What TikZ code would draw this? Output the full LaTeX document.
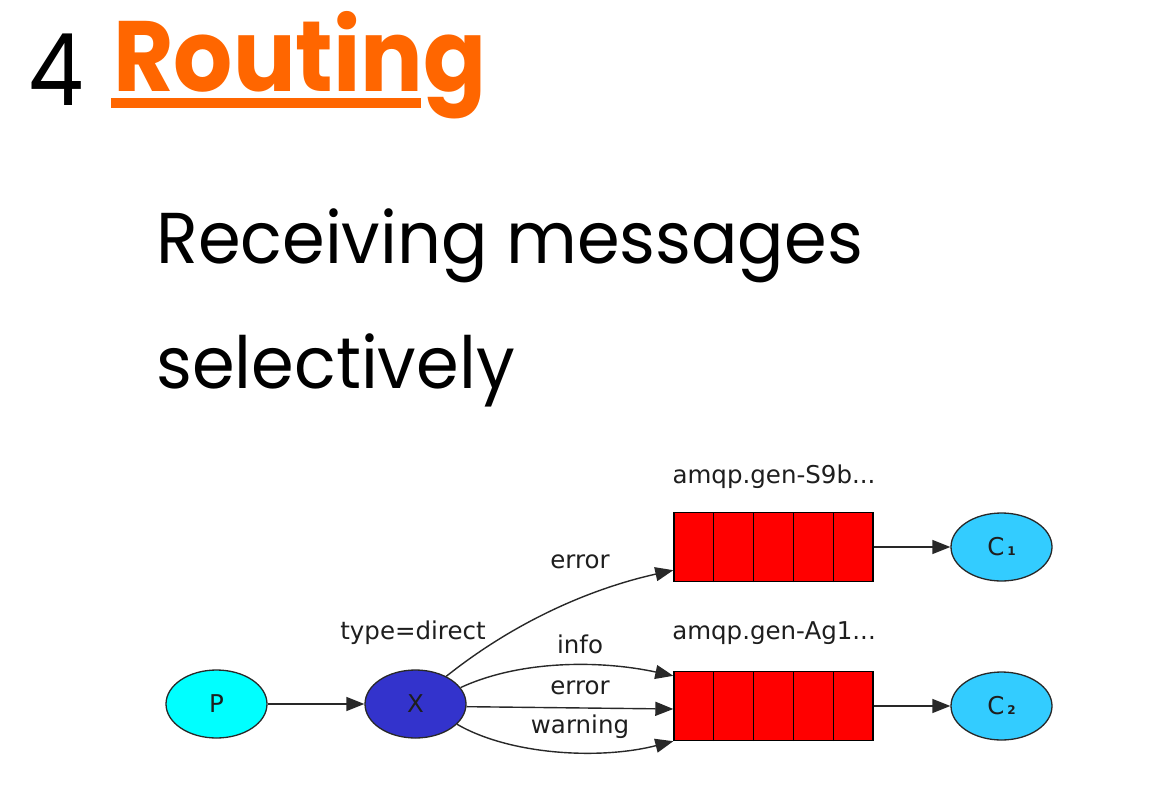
\documentclass[tikz,border=0pt]{standalone}
\usepackage{fontspec}
\setmainfont{Poppins}[Ligatures={NoCommon}]
\newfontfamily\dv{DejaVu Sans}
\usetikzlibrary{arrows.meta,calc,shapes.geometric}
\definecolor{titleorange}{RGB}{255,102,0}
\definecolor{pcyan}{RGB}{0,255,255}
\definecolor{xblue}{RGB}{51,51,204}
\definecolor{ccyan}{RGB}{51,204,255}
\definecolor{qred}{RGB}{255,0,0}
\definecolor{edgegray}{RGB}{40,40,40}
\definecolor{labelgray}{RGB}{30,30,30}
\tikzset{
  dfont/.style={font=\dv\fontsize{24.5}{24.5}\selectfont, text=labelgray},
  oval/.style={ellipse, draw=edgegray, line width=1.3pt, minimum width=101pt, minimum height=68pt, inner sep=0pt, dfont},
  queuebox/.style={rectangle, draw=black, line width=1.4pt, fill=qred, minimum width=199pt, minimum height=69pt, inner sep=0pt},
  edge/.style={draw=edgegray, line width=1.4pt, -{Triangle[length=18pt,width=14pt]}},
  lbl/.style={anchor=base, inner sep=0pt, dfont},
  head/.style={anchor=base west, inner sep=0pt}
}
\begin{document}
\begin{tikzpicture}[x=1pt,y=-1pt]
\path[use as bounding box, fill=white] (0,0) rectangle (1153,789);

% Title
\node[head, font=\fontsize{100}{100}\selectfont] (four) at (28,106) {\scalebox{0.88}[1]{4}};
\node[head, text=titleorange, font=\fontsize{100}{100}\selectfont\bfseries] (title) at (113,92) {\scalebox{0.93}[1]{Routing}};
\fill[titleorange] (111,98) rectangle (421,108);

\node[head, font=\fontsize{72}{72}\selectfont] (sub1) at (156,263) {\scalebox{0.955}[1]{Receiving messages}};
\node[head, font=\fontsize{72}{72}\selectfont] (sub2) at (156,388) {\scalebox{0.955}[1]{selectively}};

% Diagram nodes
\node[oval, fill=pcyan] (P) at (216.5,704) {P};
\node[oval, fill=xblue] (X) at (415.5,704) {X};
\node[queuebox] (q1) at (773.5,547) {};
\node[queuebox] (q2) at (773.5,706) {};
\node[oval, fill=ccyan] (C1) at (1001.5,547) {C\hspace{3pt}{\fontsize{12}{12}\selectfont\bfseries 1}};
\node[oval, fill=ccyan] (C2) at (1001.5,706) {C\hspace{3pt}{\fontsize{12}{12}\selectfont\bfseries 2}};

\foreach \q in {q1,q2}{
  \foreach \i in {1,...,4}{
    \draw[black, line width=1.3pt] ($(\q.south west)!\i/5!(\q.south east)$) -- ($(\q.north west)!\i/5!(\q.north east)$);
  }
}

% Labels
\node[lbl] (qn1) at (774,483) {amqp.gen-S9b...};
\node[lbl] (qn2) at (774,639) {amqp.gen-Ag1...};
\node[lbl] (xtype) at (413,639) {type=direct};
\node[lbl] (l1) at (580,568) {error};
\node[lbl] (l2) at (580,653) {info};
\node[lbl] (l3) at (580,694) {error};
\node[lbl] (l4) at (580,733) {warning};

% Connectors
\draw[edge] (P) -- (X);
\draw[edge] (X.42) .. controls (522,616) and (600,586.5) .. ($(q1.south west)+(0,-12)$);
\draw[edge] (X.20) .. controls (520,660) and (600,660) .. ($(q2.north west)+(0,5)$);
\draw[edge] (X.-3) -- ($(q2.west)+(0,3)$);
\draw[edge] (X.-26) .. controls (510,755) and (600,760) .. (q2.south west);
\draw[edge] (q1) -- (C1);
\draw[edge] (q2) -- (C2);
\end{tikzpicture}
\end{document}
